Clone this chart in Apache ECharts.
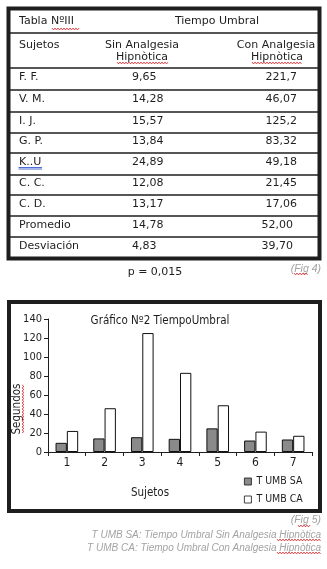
<!DOCTYPE html>
<html>
<head>
<meta charset="utf-8">
<script src="https://cdn.jsdelivr.net/npm/echarts@6/dist/echarts.min.js"></script>
<style>
  html, body { margin: 0; padding: 0; background: #fff; }
  #main { width: 327px; height: 569px; }
</style>
</head>
<body>
<div id="main"></div>
<script>
// ---- Tabla NºIII: Tiempo Umbral ----
const subjects = ['F. F.', 'V. M.', 'I. J.', 'G. P.', 'K..U', 'C. C.', 'C. D.', 'Promedio', 'Desviación'];
const sinAnalgesia = ['9,65', '14,28', '15,57', '13,84', '24,89', '12,08', '13,17', '14,78', '4,83'];
const conAnalgesia = ['221,7', '46,07', '125,2', '83,32', '49,18', '21,45', '17,06', '52,00', '39,70'];
const pValue = 'p = 0,015';

// ---- Gráfico Nº2: Tiempo Umbral por sujeto ----
const categories = ['1', '2', '3', '4', '5', '6', '7'];
const tumbSA = [9.65, 14.28, 15.57, 13.84, 24.89, 12.08, 13.17];
const tumbCA = [22.17, 46.07, 125.2, 83.32, 49.18, 21.45, 17.06];
const seriesNames = ['T UMB SA', 'T UMB CA'];
const yMin = 0, yMax = 140, yStep = 20;

const footNotes = [
  'T UMB SA: Tiempo Umbral Sin Analgesia Hipnòtica',
  'T UMB CA: Tiempo Umbral Con Analgesia Hipnòtica'
];

const INK = '#1e1e1e';
const TABLE_FONT = "'DejaVu Sans', Verdana, sans-serif";
const CHART_FONT = "'DejaVu Sans Condensed', 'Liberation Sans', Arial, sans-serif";
const NOTE_FONT = "'Liberation Sans', Arial, sans-serif";

function txt(x, y, s, opt) {
  opt = opt || {};
  return {
    type: 'text', x: x, y: y, rotation: opt.rotation || 0, silent: true,
    style: {
      text: s,
      fill: opt.color || INK,
      font: (opt.italic ? 'italic ' : '') + (opt.size || 11) + 'px ' + (opt.family || TABLE_FONT),
      textAlign: opt.align || 'left',
      textVerticalAlign: 'middle'
    }
  };
}
function hline(x1, x2, y, w, color) {
  return { type: 'line', silent: true, shape: { x1: x1, y1: y, x2: x2, y2: y },
           style: { stroke: color || INK, lineWidth: w || 1 } };
}
// spell-check style squiggle under a word
function squiggle(x0, y0, len, vertical) {
  const pts = [];
  for (let i = 0, k = 0; i <= len; i += 1.5, k++) {
    const off = (k % 2 ? 0.9 : -0.9);
    pts.push(vertical ? [x0 + off, y0 - i] : [x0 + i, y0 + off]);
  }
  return { type: 'polyline', silent: true, shape: { points: pts },
           style: { stroke: '#d8282a', lineWidth: 0.9, fill: null } };
}

const graphics = [];

// table frame and rules
graphics.push({ type: 'rect', silent: true, shape: { x: 8.5, y: 8.5, width: 311, height: 250 },
                style: { fill: 'none', stroke: INK, lineWidth: 4 } });
const ruleY = [33, 68, 90, 112, 133, 153, 175, 195, 216, 237];
ruleY.forEach(y => graphics.push(hline(10, 318, y, 1.3)));

// header rows
graphics.push(txt(19, 21.5, 'Tabla NºIII'));
graphics.push(squiggle(52, 29, 28));
graphics.push(txt(217, 21.5, 'Tiempo Umbral', { align: 'center' }));
graphics.push(txt(19, 45.5, 'Sujetos'));
graphics.push(txt(142, 45.5, 'Sin Analgesia', { align: 'center' }));
graphics.push(txt(142, 57.5, 'Hipnòtica', { align: 'center' }));
graphics.push(squiggle(117, 63, 51));
graphics.push(txt(276, 45.5, 'Con Analgesia', { align: 'center' }));
graphics.push(txt(277, 57.5, 'Hipnòtica', { align: 'center' }));
graphics.push(squiggle(252, 63, 50));

// body rows: one row between each pair of rules, last one closed by the frame
const rowEdges = ruleY.slice(1).concat([258.5]);
subjects.forEach((name, i) => {
  const yc = (rowEdges[i] + rowEdges[i + 1]) / 2 - 1.5;
  graphics.push(txt(19, yc, name));
  graphics.push(txt(132, yc, sinAnalgesia[i]));
  graphics.push(txt(i >= 7 ? 293 : 297, yc, conAnalgesia[i], { align: 'right' }));
});
// hyperlink-style underline beneath "K..U"
graphics.push(hline(18.5, 42, 167.5, 0.9, '#3b5bd0'));
graphics.push(hline(18.5, 42, 169, 0.9, '#3b5bd0'));

// below the table
graphics.push(txt(155, 272, pValue, { align: 'center' }));
graphics.push(txt(321, 269, '(Fig 4)', { align: 'right', italic: true, color: '#a3a3a3', size: 10.5, family: NOTE_FONT }));
graphics.push(squiggle(294, 274, 14));

// chart frame
graphics.push({ type: 'rect', silent: true, shape: { x: 9, y: 302, width: 311, height: 209 },
                style: { fill: 'none', stroke: INK, lineWidth: 4 } });
graphics.push(txt(160, 321, 'Gráfico Nº2 TiempoUmbral', { align: 'center', size: 11.5, family: CHART_FONT }));
graphics.push(txt(17, 409, 'Segundos', { align: 'center', rotation: Math.PI / 2, size: 11.5, family: CHART_FONT }));
graphics.push(squiggle(23, 433, 48, true));
graphics.push(txt(150, 493, 'Sujetos', { align: 'center', size: 11.5, family: CHART_FONT }));

// notes under the chart
graphics.push(txt(321, 520, '(Fig 5)', { align: 'right', italic: true, color: '#a3a3a3', size: 10.5, family: NOTE_FONT }));
graphics.push(squiggle(298, 526, 12));
footNotes.forEach((s, i) => {
  graphics.push(txt(321, 535 + i * 13, s, { align: 'right', italic: true, color: '#a3a3a3', size: 10, family: NOTE_FONT }));
  graphics.push(squiggle(277, 540 + i * 13, 44));
});

const chart = echarts.init(document.getElementById('main'), null, { renderer: 'canvas' });
chart.setOption({
  backgroundColor: '#ffffff',
  animation: false,
  grid: { left: 48, right: 15, top: 319, bottom: 117, containLabel: false },
  legend: {
    orient: 'vertical', left: 244, top: 476, padding: 0,
    itemWidth: 7, itemHeight: 7, itemGap: 7,
    icon: 'rect',
    data: seriesNames,
    itemStyle: { borderWidth: 0.8, borderColor: '#111' },
    textStyle: { fontFamily: CHART_FONT, fontSize: 10.5, color: INK }
  },
  xAxis: {
    type: 'category',
    data: categories,
    boundaryGap: true,
    axisLine: { lineStyle: { color: INK, width: 1 } },
    axisTick: { show: true, length: 4, lineStyle: { color: INK } },
    axisLabel: { color: INK, fontSize: 12, fontFamily: CHART_FONT, margin: 5 }
  },
  yAxis: {
    type: 'value',
    min: yMin, max: yMax, interval: yStep,
    axisLine: { show: true, lineStyle: { color: INK, width: 1 } },
    axisTick: { show: true, length: 4, lineStyle: { color: INK } },
    splitLine: { show: false },
    axisLabel: { color: INK, fontSize: 11, fontFamily: CHART_FONT, margin: 6 }
  },
  series: [
    {
      name: seriesNames[0], type: 'bar', data: tumbSA,
      barGap: '0%', barCategoryGap: '40%',
      itemStyle: { color: '#8a8a8a', borderColor: '#111', borderWidth: 1 }
    },
    {
      name: seriesNames[1], type: 'bar', data: tumbCA,
      barGap: '0%', barCategoryGap: '40%',
      itemStyle: { color: '#ffffff', borderColor: '#111', borderWidth: 1 }
    }
  ],
  graphic: graphics
});
</script>
</body>
</html>
